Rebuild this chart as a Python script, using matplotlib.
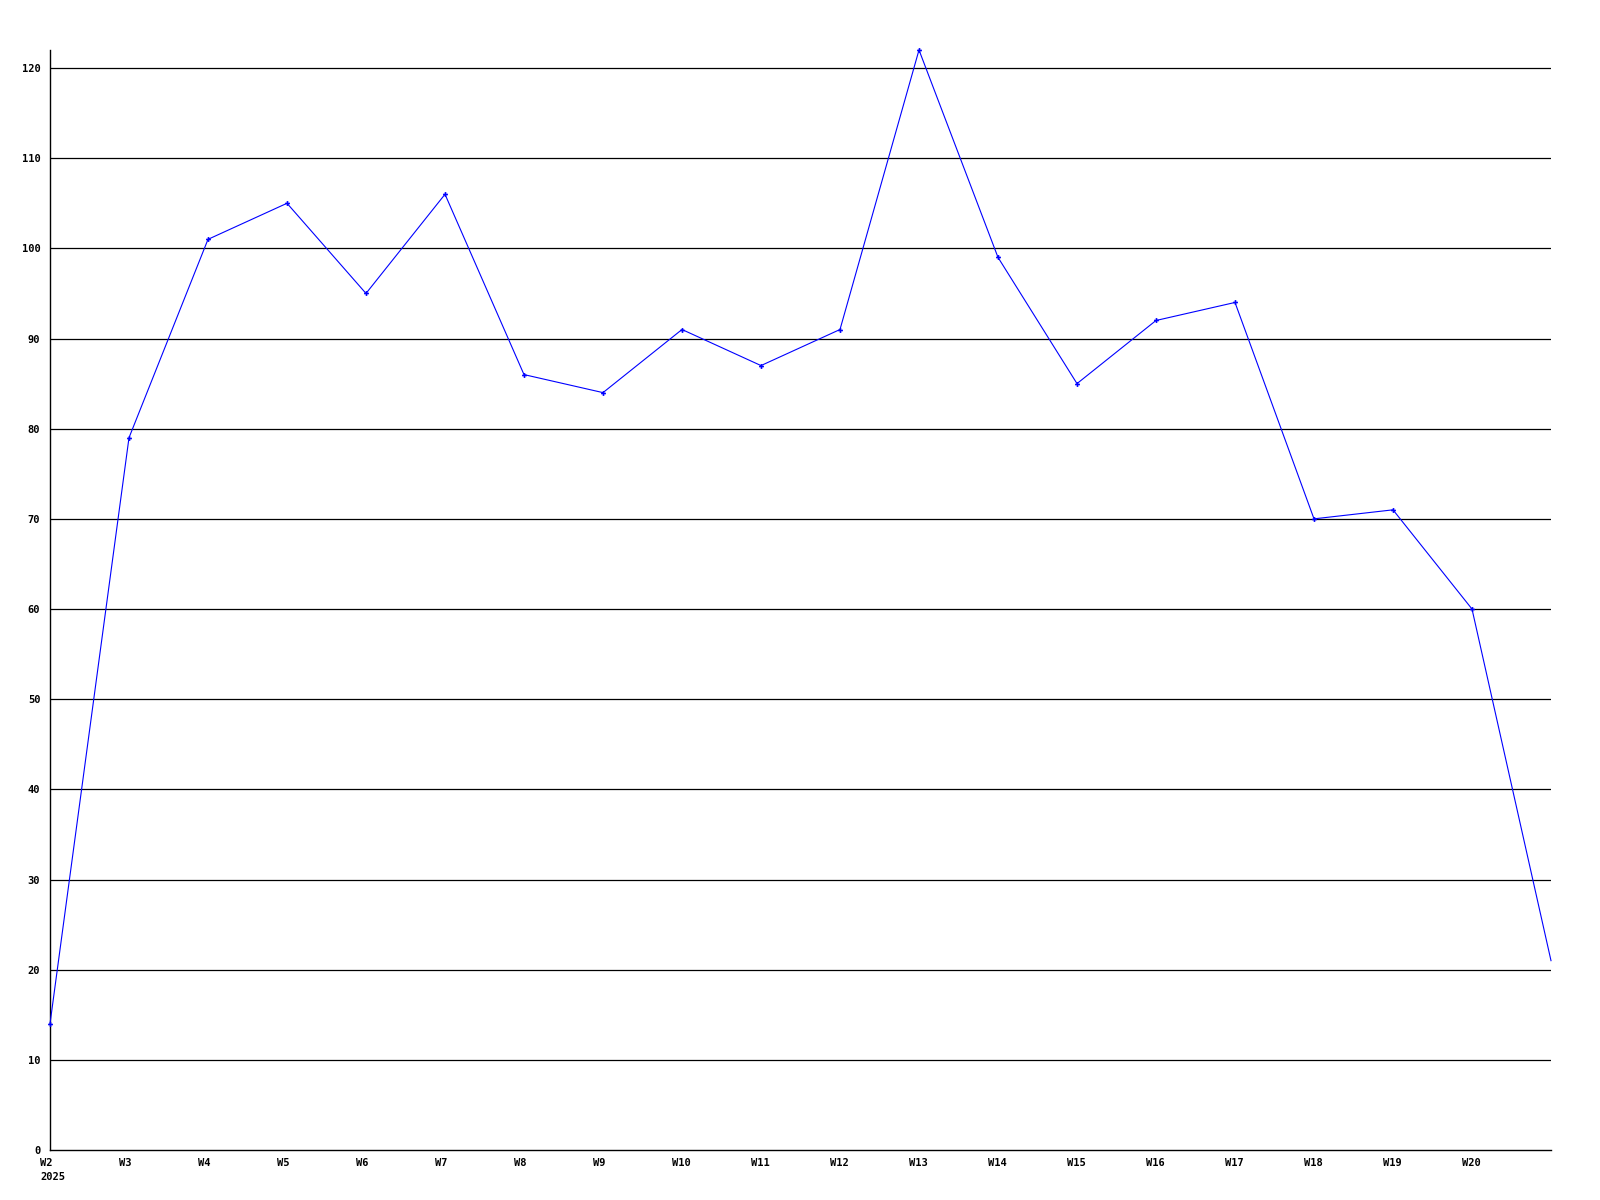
import matplotlib
matplotlib.use("Agg")
import matplotlib.pyplot as plt
from matplotlib.transforms import ScaledTranslation

weeks = ["W2", "W3", "W4", "W5", "W6", "W7", "W8", "W9", "W10", "W11",
         "W12", "W13", "W14", "W15", "W16", "W17", "W18", "W19", "W20", ""]
values = [14, 79, 101, 105, 95, 106, 86, 84, 91, 87,
          91, 122, 99, 85, 92, 94, 70, 71, 60, 21]
y_ticks = list(range(0, 130, 10))

plt.rcParams['font.family'] = ['DejaVu Sans Mono']

fig = plt.figure(figsize=(16, 12), dpi=100)
ax = fig.add_axes([50 / 1600, 50 / 1200, 1501 / 1600, 1100 / 1200])

x = list(range(len(values)))
# last point sits on the right edge, no marker there
ax.plot(x, values, color="#0000ff", linewidth=0.8, marker="P", markersize=3.5,
        markeredgewidth=0, markevery=list(range(len(values) - 1)),
        clip_on=False, zorder=3)

for t in y_ticks[1:]:
    ax.axhline(t, color="black", linewidth=0.9, zorder=1)

ax.set_xlim(0, len(values) - 1)
ax.set_ylim(0, 122)
ax.set_yticks(y_ticks)
ax.set_yticklabels([str(t) for t in y_ticks])
ax.set_xticks(x)
ax.set_xticklabels(weeks)
ax.tick_params(length=0, labelsize=7.5)
ax.tick_params(axis="y", pad=7)
ax.tick_params(axis="x", pad=6)

# x labels start a few pixels left of their tick
shift = ScaledTranslation(-10 / 100, 0, fig.dpi_scale_trans)
for lab in ax.get_xticklabels():
    lab.set_fontweight("bold")
    lab.set_ha("left")
    lab.set_transform(lab.get_transform() + shift)
for lab in ax.get_yticklabels():
    lab.set_fontweight("bold")

ax.text(0, -0.02, "2025", transform=ax.get_xaxis_transform() + shift,
        ha="left", va="top", fontsize=7.5, fontweight="bold")

for s in ["top", "right"]:
    ax.spines[s].set_visible(False)
for s in ["left", "bottom"]:
    ax.spines[s].set_color("black")
    ax.spines[s].set_linewidth(1)

fig.savefig("out.png", dpi=100)
